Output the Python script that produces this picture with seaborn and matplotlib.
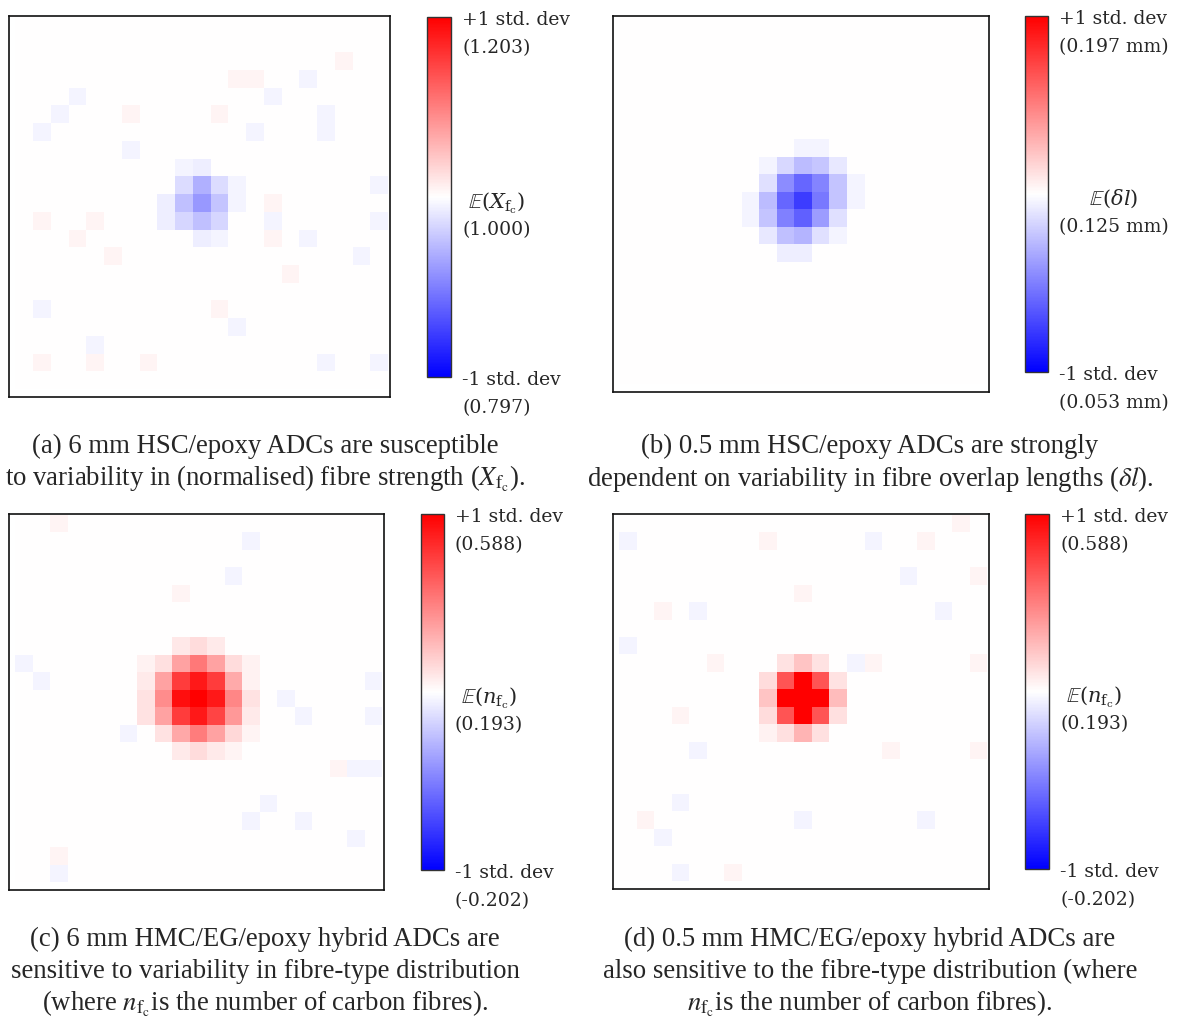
import numpy as np
import matplotlib
matplotlib.use("Agg")
import matplotlib.pyplot as plt
import matplotlib.transforms as mtransforms
import seaborn as sns

# grid size of every sensitivity map
N = 21
f = 0.04  # faint cells

# (row, col, deviation in std. dev units)
cells_a = [(2, 18, f), (3, 12, f), (3, 13, f), (3, 16, -f), (4, 3, -f), (4, 14, -f),
           (5, 2, -f), (5, 6, f), (5, 11, f), (5, 17, -f), (6, 17, -f), (6, 1, -f),
           (6, 13, -f), (7, 6, -f),
           (8, 9, -0.04), (8, 10, -0.07),
           (9, 9, -0.14), (9, 10, -0.31), (9, 11, -0.14), (9, 12, -0.04), (9, 20, -f),
           (10, 8, -0.07), (10, 9, -0.25), (10, 10, -0.40), (10, 11, -0.23), (10, 12, -0.04),
           (10, 14, f),
           (11, 1, f), (11, 4, f), (11, 8, -0.07), (11, 9, -0.16), (11, 10, -0.25),
           (11, 11, -0.16), (11, 14, -f), (11, 20, -f),
           (12, 3, f), (12, 10, -0.07), (12, 11, -0.04), (12, 14, f), (12, 16, -f),
           (13, 5, f), (13, 19, -f), (14, 15, f), (16, 1, -f), (16, 11, f),
           (17, 12, -f), (18, 4, -f),
           (19, 1, f), (19, 4, f), (19, 7, f), (19, 17, -f), (19, 20, -f)]

cells_b = [(7, 10, -0.04), (7, 11, -0.04),
           (8, 8, -0.04), (8, 9, -0.15), (8, 10, -0.26), (8, 11, -0.22), (8, 12, -0.09),
           (9, 8, -0.12), (9, 9, -0.45), (9, 10, -0.60), (9, 11, -0.48), (9, 12, -0.23), (9, 13, -0.04),
           (10, 7, -0.04), (10, 8, -0.26), (10, 9, -0.60), (10, 10, -0.76), (10, 11, -0.53),
           (10, 12, -0.23), (10, 13, -0.04),
           (11, 7, -0.04), (11, 8, -0.23), (11, 9, -0.50), (11, 10, -0.62), (11, 11, -0.39),
           (11, 12, -0.12),
           (12, 8, -0.09), (12, 9, -0.25), (12, 10, -0.29), (12, 11, -0.12), (12, 12, -0.04),
           (13, 9, -0.07), (13, 10, -0.07)]

cells_c = [(0, 2, f), (1, 13, -f), (3, 12, -f), (4, 9, f),
           (7, 9, 0.09), (7, 10, 0.14), (7, 11, 0.08),
           (8, 0, -f), (8, 7, 0.05), (8, 8, 0.12), (8, 9, 0.36), (8, 10, 0.53), (8, 11, 0.36),
           (8, 12, 0.14), (8, 13, 0.05),
           (9, 1, -f), (9, 7, 0.08), (9, 8, 0.36), (9, 9, 0.76), (9, 10, 0.90), (9, 11, 0.76),
           (9, 12, 0.33), (9, 13, 0.05), (9, 20, -f),
           (10, 7, 0.11), (10, 8, 0.45), (10, 9, 0.94), (10, 10, 1.00), (10, 11, 0.90),
           (10, 12, 0.47), (10, 13, 0.11), (10, 15, -f),
           (11, 7, 0.11), (11, 8, 0.36), (11, 9, 0.76), (11, 10, 0.90), (11, 11, 0.73),
           (11, 12, 0.40), (11, 13, 0.08), (11, 16, -f), (11, 20, -f),
           (12, 6, -f), (12, 8, 0.11), (12, 9, 0.34), (12, 10, 0.51), (12, 11, 0.36),
           (12, 12, 0.15), (12, 13, 0.04),
           (13, 9, 0.08), (13, 10, 0.14), (13, 11, 0.08), (13, 12, 0.04),
           (14, 18, f), (14, 19, -f), (14, 20, -f), (16, 14, -f), (17, 13, -f), (17, 16, -f),
           (18, 19, -f), (19, 2, f), (20, 2, -f)]

cells_d = [(0, 19, f), (1, 0, -f), (1, 8, f), (1, 14, -f), (1, 17, f), (3, 16, -f), (3, 20, f),
           (4, 10, f), (5, 2, f), (5, 4, -f), (5, 18, -f), (7, 0, -f),
           (8, 5, f), (8, 9, 0.11), (8, 10, 0.23), (8, 11, 0.11), (8, 13, -f), (8, 14, f), (8, 20, f),
           (9, 8, 0.14), (9, 9, 0.67), (9, 10, 1.00), (9, 11, 0.67), (9, 12, 0.11),
           (10, 8, 0.23), (10, 9, 1.00), (10, 10, 1.00), (10, 11, 1.00), (10, 12, 0.26),
           (11, 3, f), (11, 8, 0.14), (11, 9, 0.67), (11, 10, 1.00), (11, 11, 0.67), (11, 12, 0.12),
           (12, 8, 0.05), (12, 9, 0.12), (12, 10, 0.29), (12, 11, 0.12),
           (13, 4, -f), (13, 15, f), (13, 20, f), (16, 3, -f), (17, 1, f), (17, 10, -f),
           (17, 17, -f), (18, 2, -f), (20, 3, -f), (20, 6, f)]

# colour bar labels: (first line, second line) for top, middle, bottom
labels_a = [("+1 std. dev", "(1.203)"),
            (r"$\mathbb{E}\left(X_{\mathrm{f}_\mathrm{c}}\right)$", "(1.000)"),
            ("-1 std. dev", "(0.797)")]
labels_b = [("+1 std. dev", "(0.197 mm)"),
            (r"$\mathbb{E}(\delta l)$", "(0.125 mm)"),
            ("-1 std. dev", "(0.053 mm)")]
labels_n = [("+1 std. dev", "(0.588)"),
            (r"$\mathbb{E}\left(n_{\mathrm{f}_\mathrm{c}}\right)$", "(0.193)"),
            ("-1 std. dev", "(-0.202)")]

captions = [
    ["(a) 6 mm HSC/epoxy ADCs are susceptible",
     r"to variability in (normalised) fibre strength ($X_{\mathrm{f}_\mathrm{c}}$)."],
    ["(b) 0.5 mm HSC/epoxy ADCs are strongly",
     r"dependent on variability in fibre overlap lengths ($\delta l$)."],
    ["(c) 6 mm HMC/EG/epoxy hybrid ADCs are",
     "sensitive to variability in fibre-type distribution",
     r"(where $n_{\mathrm{f}_\mathrm{c}}$is the number of carbon fibres)."],
    ["(d) 0.5 mm HMC/EG/epoxy hybrid ADCs are",
     "also sensitive to the fibre-type distribution (where",
     r"$n_{\mathrm{f}_\mathrm{c}}$is the number of carbon fibres)."],
]

sns.set_style("white")
plt.rcParams['font.family'] = ['Liberation Serif', 'DejaVu Serif']

W, H = 1181, 1017
fig = plt.figure(figsize=(W / 100, H / 100), dpi=100)
renderer = fig.canvas.get_renderer()


def px_rect(x0, y0, x1, y1):
    return [x0 / W, 1 - y1 / H, (x1 - x0) / W, (y1 - y0) / H]


def build(cells):
    m = np.zeros((N, N))
    for r, c, v in cells:
        m[r, c] = v
    return m


def cb_text(cax, ypos, dx, dy, s, ha="left", size=13.5):
    tr = mtransforms.offset_copy(cax.transAxes, fig=fig, x=dx, y=dy, units="dots")
    return cax.text(1.0, ypos, s, transform=tr, ha=ha, va="center_baseline",
                    fontsize=size, family="DejaVu Serif", math_fontfamily="dejavuserif")


panels = [
    (cells_a, labels_a, (9, 16, 390, 397), (427, 17, 451, 377)),
    (cells_b, labels_b, (613, 16, 989, 392), (1025, 16, 1048, 372)),
    (cells_c, labels_n, (9, 514, 384, 890), (421, 514, 444, 870)),
    (cells_d, labels_n, (613, 514, 989, 889), (1025, 514, 1049, 869)),
]

for cells, labs, arect, crect in panels:
    ax = fig.add_axes(px_rect(*arect))
    cax = fig.add_axes(px_rect(*crect))
    sns.heatmap(build(cells), ax=ax, cbar_ax=cax, cmap="bwr", vmin=-1, vmax=1,
                xticklabels=False, yticklabels=False, square=False)
    ax.set_xlim(-0.35, N + 0.1)
    ax.set_ylim(N + 0.45, -0.05)
    for s in ax.spines.values():
        s.set_visible(True)
        s.set_color("#111111")
        s.set_linewidth(1.2)

    cb = ax.collections[0].colorbar
    cb.outline.set_visible(True)
    cb.outline.set_linewidth(1.0)
    cb.outline.set_edgecolor("#333333")
    cb.set_ticks(np.linspace(-0.8, 0.8, 9))
    cax.tick_params(axis="y", direction="in", length=4, width=0.8, color="#333333",
                    right=True, left=False, labelright=False, labelleft=False)

    gap, pitch = 11, 28
    # top and bottom labels: left aligned, first line sits on the bar end
    for ypos, (l1, l2) in ((1.0, labs[0]), (0.0, labs[2])):
        cb_text(cax, ypos, gap, -1, l1)
        cb_text(cax, ypos, gap, -1 - pitch, l2)
    # middle label: second line left aligned, first line centred over it
    l1, l2 = labs[1]
    t2 = cb_text(cax, 0.5, gap, -31, l2)
    wpx = t2.get_window_extent(renderer).width
    cb_text(cax, 0.5, gap + wpx / 2, -2, l1, ha="center", size=15)

# captions below each panel
cap_pos = [(265, 443), (870, 443), (265, 936), (870, 936)]
for (cx, cy), lines in zip(cap_pos, captions):
    for i, line in enumerate(lines):
        fig.text(cx / W, 1 - (cy + 32 * i) / H, line, ha="center", va="center_baseline",
                 fontsize=19.3, math_fontfamily="stix")

plt.savefig("out.png", dpi=100)
